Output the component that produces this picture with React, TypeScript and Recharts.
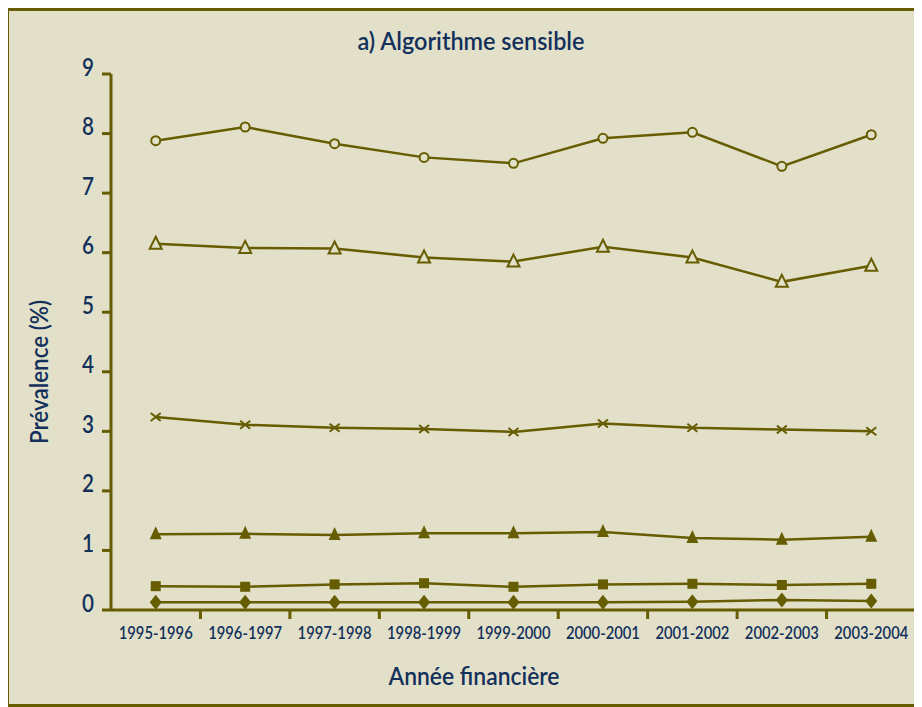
import { LineChart, Line, XAxis, YAxis } from "recharts";

const years = [
  "1995-1996",
  "1996-1997",
  "1997-1998",
  "1998-1999",
  "1999-2000",
  "2000-2001",
  "2001-2002",
  "2002-2003",
  "2003-2004",
];

// prévalence (%) par série
const cercle = [7.88, 8.11, 7.83, 7.6, 7.5, 7.92, 8.02, 7.45, 7.98];
const triangleVide = [6.15, 6.08, 6.07, 5.92, 5.85, 6.1, 5.92, 5.51, 5.78];
const croix = [3.24, 3.11, 3.06, 3.04, 2.99, 3.13, 3.06, 3.03, 3.0];
const trianglePlein = [1.27, 1.28, 1.26, 1.29, 1.29, 1.31, 1.21, 1.18, 1.23];
const carre = [0.4, 0.39, 0.43, 0.45, 0.39, 0.43, 0.44, 0.42, 0.44];
const losange = [0.13, 0.13, 0.13, 0.13, 0.13, 0.13, 0.14, 0.17, 0.15];

const yTicks = [0, 1, 2, 3, 4, 5, 6, 7, 8, 9];

const OLIVE = "#665c00";
const BG = "#e3e0ca";
const NAVY = "#12305a";
const FONT = "Lato, 'DejaVu Sans Condensed', sans-serif";

const data = years.map((label, i) => ({
  x: i,
  label,
  cercle: cercle[i],
  triangleVide: triangleVide[i],
  croix: croix[i],
  trianglePlein: trianglePlein[i],
  carre: carre[i],
  losange: losange[i],
}));

const centers = years.map((_, i) => i);
const bounds = years.map((_, i) => i + 0.5);

const XTick = (props: any) => {
  const { x, y, payload } = props;
  if (Number.isInteger(payload.value)) {
    return (
      <text
        x={x}
        y={y + 29}
        textAnchor="middle"
        fill={NAVY}
        fontSize={17}
        fontWeight={600}
        fontFamily={FONT}
        textLength={74}
        lengthAdjust="spacingAndGlyphs"
      >
        {years[payload.value]}
      </text>
    );
  }
  return <line x1={x} y1={y} x2={x} y2={y + 9} stroke={OLIVE} strokeWidth={3} />;
};

const YTick = (props: any) => {
  const { x, y, payload } = props;
  return (
    <text
      x={x}
      y={y + 1.5}
      textAnchor="end"
      fill={NAVY}
      fontSize={24}
      fontWeight={600}
      fontFamily={FONT}
      textLength={12}
      lengthAdjust="spacingAndGlyphs"
    >
      {payload.value}
    </text>
  );
};

const marker = (kind: string) => (props: any) => {
  const { cx, cy, key } = props;
  if (cx == null || cy == null) return <g key={key} />;
  switch (kind) {
    case "circle":
      return <circle key={key} cx={cx} cy={cy} r={4.5} fill={BG} stroke={OLIVE} strokeWidth={2} />;
    case "triOpen":
      return (
        <polygon
          key={key}
          points={`${cx},${cy - 7} ${cx + 6},${cy + 5} ${cx - 6},${cy + 5}`}
          fill={BG}
          stroke={OLIVE}
          strokeWidth={2}
        />
      );
    case "cross":
      return (
        <path
          key={key}
          d={`M${cx - 5},${cy - 4}L${cx + 5},${cy + 4}M${cx - 5},${cy + 4}L${cx + 5},${cy - 4}`}
          stroke={OLIVE}
          strokeWidth={2}
        />
      );
    case "triFill":
      return (
        <polygon
          key={key}
          points={`${cx},${cy - 8} ${cx + 6},${cy + 5} ${cx - 6},${cy + 5}`}
          fill={OLIVE}
        />
      );
    case "square":
      return <rect key={key} x={cx - 5} y={cy - 5} width={10} height={10} fill={OLIVE} />;
    default:
      return (
        <polygon
          key={key}
          points={`${cx},${cy - 7.5} ${cx + 6},${cy} ${cx},${cy + 7.5} ${cx - 6},${cy}`}
          fill={OLIVE}
        />
      );
  }
};

const series = [
  { key: "cercle", kind: "circle" },
  { key: "triangleVide", kind: "triOpen" },
  { key: "croix", kind: "cross" },
  { key: "trianglePlein", kind: "triFill" },
  { key: "carre", kind: "square" },
  { key: "losange", kind: "diamond" },
];

export default function App() {
  return (
    <div style={{ position: "relative", width: 914, height: 699, background: BG }}>
      <LineChart
        width={914}
        height={699}
        data={data}
        margin={{ top: 66, right: 6, left: 43, bottom: 67 }}
      >
        <XAxis
          dataKey="x"
          type="number"
          domain={[-0.5, 8.5]}
          ticks={[...centers, ...bounds]}
          interval={0}
          tickLine={false}
          tickSize={0}
          tickMargin={0}
          height={30}
          axisLine={{ stroke: OLIVE, strokeWidth: 3 }}
          tick={<XTick />}
        />
        <YAxis
          type="number"
          domain={[0, 9]}
          ticks={yTicks}
          interval={0}
          width={60}
          tickSize={9}
          tickMargin={8}
          axisLine={{ stroke: OLIVE, strokeWidth: 3 }}
          tickLine={{ stroke: OLIVE, strokeWidth: 3 }}
          tick={<YTick />}
        />
        {series.map((s) => (
          <Line
            key={s.key}
            dataKey={s.key}
            type="linear"
            stroke={OLIVE}
            strokeWidth={2.5}
            dot={marker(s.kind)}
            activeDot={false}
            isAnimationActive={false}
          />
        ))}
      </LineChart>

      <svg
        width={914}
        height={699}
        style={{ position: "absolute", left: 0, top: 0, pointerEvents: "none" }}
      >
        <text
          x={463}
          y={42}
          textAnchor="middle"
          fill={NAVY}
          fontSize={24}
          fontWeight={600}
          fontFamily={FONT}
          textLength={227}
          lengthAdjust="spacingAndGlyphs"
        >
          a) Algorithme sensible
        </text>
        <text
          x={466}
          y={677}
          textAnchor="middle"
          fill={NAVY}
          fontSize={25}
          fontWeight={600}
          fontFamily={FONT}
          textLength={171}
          lengthAdjust="spacingAndGlyphs"
        >
          Année financière
        </text>
        <text
          x={40}
          y={364}
          textAnchor="middle"
          fill={NAVY}
          fontSize={25}
          fontWeight={600}
          fontFamily={FONT}
          textLength={144}
          lengthAdjust="spacingAndGlyphs"
          transform="rotate(-90 40 364)"
        >
          Prévalence (%)
        </text>
      </svg>

      <div
        style={{
          position: "absolute",
          left: -1,
          top: -1,
          width: 915,
          height: 700,
          boxSizing: "border-box",
          borderTop: `4px solid ${OLIVE}`,
          borderLeft: `2px solid ${OLIVE}`,
          borderBottom: `3px solid ${OLIVE}`,
          pointerEvents: "none",
        }}
      />
    </div>
  );
}
